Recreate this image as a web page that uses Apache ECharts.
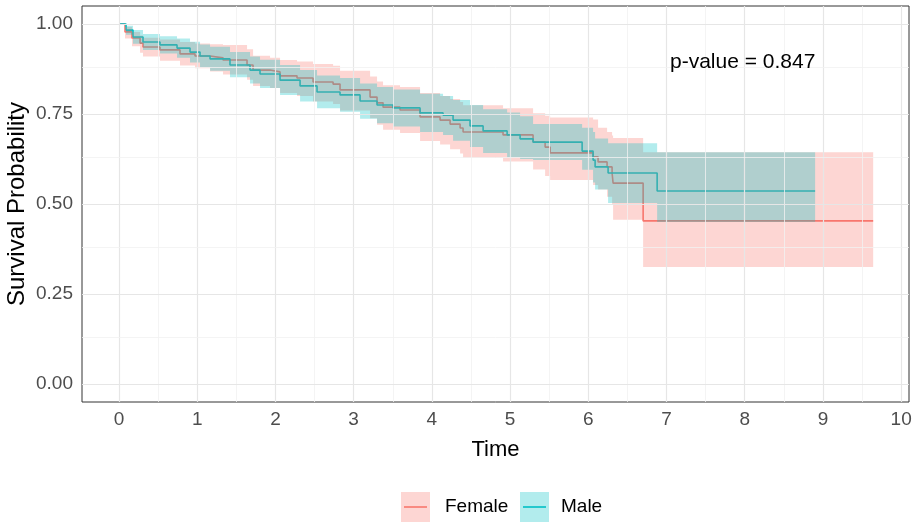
<!DOCTYPE html>
<html>
<head>
<meta charset="utf-8">
<script src="https://cdn.jsdelivr.net/npm/echarts@6/dist/echarts.min.js"></script>
<style>html,body{margin:0;padding:0;background:#fff;}#chart{width:912px;height:526px;}</style>
</head>
<body>
<div id="chart"></div>
<script>
// ---- data ----
const femaleTime  = [0, 0.077, 0.166, 0.269, 0.307, 0.524, 0.780, 0.972, 1.164, 1.330, 1.637, 1.714, 1.931, 2.059, 2.276, 2.481, 2.737, 2.826, 3.210, 3.299, 3.376, 3.593, 3.849, 4.105, 4.233, 4.361, 4.399, 4.910, 5.294, 5.448, 5.512, 6.061, 6.125, 6.240, 6.304, 6.317, 6.701, 9.642];
const femaleSurv  = [1.000, 0.978, 0.961, 0.947, 0.936, 0.928, 0.917, 0.911, 0.906, 0.900, 0.886, 0.872, 0.867, 0.856, 0.850, 0.839, 0.833, 0.817, 0.797, 0.781, 0.769, 0.761, 0.742, 0.733, 0.722, 0.711, 0.700, 0.692, 0.672, 0.658, 0.642, 0.631, 0.617, 0.603, 0.586, 0.558, 0.453, 0.453];
const femaleLower = [1.000, 0.960, 0.938, 0.920, 0.910, 0.898, 0.885, 0.877, 0.868, 0.860, 0.845, 0.828, 0.822, 0.808, 0.800, 0.785, 0.778, 0.760, 0.738, 0.720, 0.706, 0.697, 0.675, 0.665, 0.652, 0.640, 0.628, 0.618, 0.596, 0.578, 0.567, 0.553, 0.540, 0.520, 0.500, 0.456, 0.325, 0.325];
const femaleUpper = [1.000, 0.992, 0.978, 0.968, 0.962, 0.957, 0.950, 0.946, 0.944, 0.942, 0.930, 0.912, 0.906, 0.900, 0.896, 0.889, 0.884, 0.870, 0.854, 0.840, 0.830, 0.825, 0.808, 0.800, 0.792, 0.783, 0.774, 0.766, 0.752, 0.745, 0.740, 0.735, 0.712, 0.700, 0.690, 0.683, 0.644, 0.644];

const maleTime  = [0, 0.090, 0.179, 0.307, 0.524, 0.742, 0.908, 1.036, 1.164, 1.419, 1.675, 1.803, 2.059, 2.315, 2.532, 2.826, 3.082, 3.299, 3.504, 3.849, 4.143, 4.271, 4.488, 4.655, 4.962, 5.128, 5.294, 5.921, 6.061, 6.087, 6.253, 6.880, 8.900];
const maleSurv  = [1.000, 0.983, 0.964, 0.950, 0.942, 0.933, 0.922, 0.911, 0.903, 0.886, 0.872, 0.861, 0.844, 0.828, 0.811, 0.803, 0.786, 0.775, 0.767, 0.753, 0.747, 0.733, 0.717, 0.703, 0.692, 0.681, 0.672, 0.647, 0.622, 0.603, 0.586, 0.536, 0.536];
const maleLower = [1.000, 0.970, 0.945, 0.928, 0.918, 0.906, 0.893, 0.880, 0.870, 0.852, 0.835, 0.822, 0.803, 0.785, 0.766, 0.756, 0.737, 0.724, 0.715, 0.700, 0.692, 0.676, 0.658, 0.642, 0.630, 0.625, 0.622, 0.595, 0.560, 0.540, 0.503, 0.450, 0.450];
const maleUpper = [1.000, 0.995, 0.983, 0.972, 0.966, 0.960, 0.951, 0.943, 0.937, 0.922, 0.910, 0.901, 0.886, 0.872, 0.857, 0.850, 0.835, 0.825, 0.818, 0.806, 0.800, 0.789, 0.775, 0.763, 0.754, 0.744, 0.722, 0.712, 0.700, 0.682, 0.669, 0.644, 0.644];

const xTicks = [0, 1, 2, 3, 4, 5, 6, 7, 8, 9, 10];
const yTicks = [0, 0.25, 0.5, 0.75, 1];
const xMinorGrid = [0.5, 1.5, 2.5, 3.5, 4.5, 5.5, 6.5, 7.5, 8.5, 9.5];
const yMinorGrid = [0.125, 0.375, 0.625, 0.875];
const groupNames = ['Female', 'Male'];
const pValueText = 'p-value = 0.847';

// ---- styling ----
const FONT = 'Liberation Sans, Arial, Helvetica, sans-serif';
const colF = '#F8766D', colM = '#00BFC4';
const fillF = 'rgba(248,118,109,0.3)', fillM = 'rgba(0,191,196,0.3)';

const pairs = (xs, ys) => xs.map((x, i) => [x, ys[i]]);
const rows = (xs, lo, hi) => xs.map((x, i) => [x, lo[i], hi[i]]);

// step-shaped confidence ribbon drawn as one polygon through the axes' scales
function ribbonSeries(name, data, fill) {
  return {
    name: name, type: 'custom', z: 3, silent: true, clip: true,
    data: data,
    encode: {x: 0, y: [1, 2]},
    renderItem: function (params, api) {
      if (params.dataIndex !== 0) return null;
      const pts = [];
      for (let i = 0; i < data.length - 1; i++) {
        pts.push(api.coord([data[i][0], data[i][2]]));
        pts.push(api.coord([data[i + 1][0], data[i][2]]));
      }
      for (let i = data.length - 2; i >= 0; i--) {
        pts.push(api.coord([data[i + 1][0], data[i][1]]));
        pts.push(api.coord([data[i][0], data[i][1]]));
      }
      return {type: 'polygon', shape: {points: pts}, style: {fill: fill, stroke: null}, silent: true};
    }
  };
}

const gridLines = [];
xTicks.forEach(v => gridLines.push({xAxis: v, lineStyle: {color: '#E6E6E6', width: 1.2, type: 'solid'}}));
xMinorGrid.forEach(v => gridLines.push({xAxis: v, lineStyle: {color: '#F1F1F1', width: 0.8, type: 'solid'}}));
yTicks.forEach(v => gridLines.push({yAxis: v, lineStyle: {color: '#E6E6E6', width: 1.2, type: 'solid'}}));
yMinorGrid.forEach(v => gridLines.push({yAxis: v, lineStyle: {color: '#F1F1F1', width: 0.8, type: 'solid'}}));

const chart = echarts.init(document.getElementById('chart'), null, {renderer: 'canvas'});
const option = {
  animation: false,
  backgroundColor: '#ffffff',
  textStyle: {fontFamily: FONT},
  grid: {left: 82, right: 3, top: 6, bottom: 124, show: true, borderColor: '#333333', borderWidth: 1,
         backgroundColor: '#ffffff', containLabel: false, outerBoundsMode: 'none'},
  xAxis: {
    type: 'value', min: -0.473, max: 10.1,
    name: 'Time', nameLocation: 'middle', nameGap: 37,
    nameTextStyle: {fontFamily: FONT, fontSize: 22, color: '#000'},
    axisLine: {show: false},
    axisTick: {show: true, length: 4, lineStyle: {color: '#333333', width: 1}, customValues: xTicks},
    axisLabel: {fontFamily: FONT, fontSize: 19, color: '#4D4D4D', margin: 8, customValues: xTicks, formatter: v => String(v)},
    splitLine: {show: false}
  },
  yAxis: {
    type: 'value', min: -0.05, max: 1.05,
    name: 'Survival Probability', nameLocation: 'middle', nameGap: 53, nameRotate: 90, nameMoveOverlap: false,
    nameTextStyle: {fontFamily: FONT, fontSize: 24, color: '#000'},
    axisLine: {show: false},
    axisTick: {show: true, length: 4, lineStyle: {color: '#333333', width: 1}, customValues: yTicks},
    axisLabel: {fontFamily: FONT, fontSize: 19, color: '#4D4D4D', margin: 9, customValues: yTicks, formatter: v => v.toFixed(2)},
    splitLine: {show: false}
  },
  series: [
    {name: 'grid', type: 'line', data: [], silent: true, z: 1,
     markLine: {silent: true, symbol: ['none', 'none'], label: {show: false}, animation: false, data: gridLines}},
    {name: groupNames[0], type: 'line', step: 'end', showSymbol: false, z: 2,
     data: pairs(femaleTime, femaleSurv), lineStyle: {color: colF, width: 1.6}, itemStyle: {color: colF}},
    {name: groupNames[1], type: 'line', step: 'end', showSymbol: false, z: 2,
     data: pairs(maleTime, maleSurv), lineStyle: {color: colM, width: 1.6}, itemStyle: {color: colM}},
    ribbonSeries('Female CI', rows(femaleTime, femaleLower, femaleUpper), fillF),
    ribbonSeries('Male CI', rows(maleTime, maleLower, maleUpper), fillM)
  ],
  graphic: [
    {type: 'text', left: 670, top: 52, z: 10, style: {text: pValueText, fontFamily: FONT, fontSize: 21, fill: '#000'}},
    {type: 'rect', shape: {x: 401, y: 492, width: 29, height: 30}, style: {fill: fillF}, z: 10},
    {type: 'line', shape: {x1: 404, y1: 507, x2: 427, y2: 507}, style: {stroke: colF, lineWidth: 1.6}, z: 11},
    {type: 'text', x: 445, y: 507, z: 10, style: {text: groupNames[0], fontFamily: FONT, fontSize: 19, fill: '#000', verticalAlign: 'middle'}},
    {type: 'rect', shape: {x: 520, y: 492, width: 29, height: 30}, style: {fill: fillM}, z: 10},
    {type: 'line', shape: {x1: 523, y1: 507, x2: 546, y2: 507}, style: {stroke: colM, lineWidth: 1.6}, z: 11},
    {type: 'text', x: 561, y: 507, z: 10, style: {text: groupNames[1], fontFamily: FONT, fontSize: 19, fill: '#000', verticalAlign: 'middle'}}
  ]
};
chart.setOption(option);
</script>
</body>
</html>
